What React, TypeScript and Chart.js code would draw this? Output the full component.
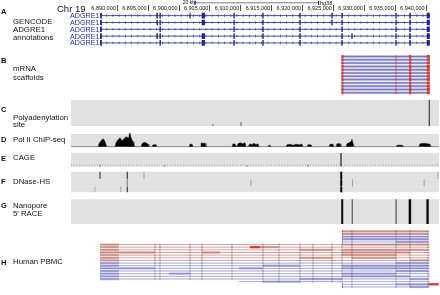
import { useEffect, useRef } from 'react';
import { Chart, registerables } from 'chart.js';

Chart.register(...registerables);

// ================= DATA (genomic positions in kb, chr19 hg38) =================
const chromName = 'Chr 19';
const viewKb: [number, number] = [6882.5, 6942.09];
const rulerStepKb = 5;
const rulerFirstLabelKb = 6890;
const scaleBarKb: [number, number] = [6902.6, 6922.6];
const scaleBarText = '20 kb';
const assemblyText = 'hg38';

// A: GENCODE ADGRE1 transcripts, exons [start, end]
const transcriptNames = ['ADGRE1', 'ADGRE1', 'ADGRE1', 'ADGRE1', 'ADGRE1'];
const transcriptExons: [number, number][][] = [
  [[6887.22, 6887.5], [6896.34, 6896.56], [6896.83, 6897.05], [6901.68, 6901.88], [6903.66, 6904.18], [6908.8, 6909.02], [6913.48, 6913.7], [6919.48, 6919.7], [6924.66, 6924.88], [6926.28, 6926.5], [6935.03, 6935.24], [6937.28, 6937.52], [6940.1, 6940.6]],
  [[6887.22, 6887.5], [6896.34, 6896.56], [6896.83, 6897.05], [6903.66, 6904.18], [6908.8, 6909.02], [6913.48, 6913.7], [6919.48, 6919.7], [6924.66, 6924.88], [6926.28, 6926.5], [6935.03, 6935.24], [6937.28, 6937.52], [6940.1, 6940.6]],
  [[6887.22, 6887.5], [6896.83, 6897.05], [6908.8, 6909.02], [6913.48, 6913.7], [6919.48, 6919.7], [6926.28, 6926.5], [6935.03, 6935.24], [6937.28, 6937.52], [6940.1, 6940.6]],
  [[6887.22, 6887.5], [6896.34, 6896.56], [6896.83, 6897.05], [6903.66, 6904.18], [6908.8, 6909.02], [6913.48, 6913.7], [6919.48, 6919.7], [6926.28, 6926.5], [6927.9, 6928.1], [6935.03, 6935.24], [6937.28, 6937.52], [6940.1, 6940.6]],
  [[6887.22, 6887.5], [6896.83, 6897.05], [6903.66, 6904.18], [6908.8, 6909.02], [6913.48, 6913.7], [6919.48, 6919.7], [6926.28, 6926.5], [6935.03, 6935.24], [6937.28, 6937.52], [6940.1, 6940.6]],
];

// B: mRNA scaffolds
const scaffoldSpanKb: [number, number] = [6926.3, 6940.6];
const scaffoldExons: [number, number][] = [[6926.3, 6926.62], [6935.06, 6935.2], [6937.24, 6937.6], [6940.12, 6940.6]];
const scaffoldAltExon: [number, number] = [6927.94, 6928.08];
const scaffoldHasAltExon = [true, true, false, true, true, false, true, true, true, false, true, true];

// C: polyadenylation sites [kb, relative signal]
const polyASites: [number, number][] = [[6940.52, 1.0], [6910.03, 0.14], [6905.5, 0.07]];

// D: Pol II ChIP-seq coverage [kb, signal]
const polIISignal: [number, number][] = [
  [6882.5, 0], [6886.87, 0], [6887.04, 3], [6887.36, 6], [6887.69, 8], [6887.85, 7], [6888.01, 5], [6888.17, 2], [6888.33, 0],
  [6889.63, 0], [6889.79, 4], [6890.11, 7], [6890.44, 9], [6890.76, 6], [6891.08, 8], [6891.41, 10], [6891.73, 9], [6891.89, 11], [6892.05, 14], [6892.22, 9], [6892.54, 5], [6892.7, 2], [6892.87, 0],
  [6893.84, 0], [6894.0, 3], [6894.32, 4.5], [6894.65, 4], [6894.97, 2.5], [6895.13, 0],
  [6895.62, 0], [6895.78, 2], [6896.27, 2], [6896.43, 0],
  [6901.61, 0], [6901.77, 2.5], [6902.1, 2.5], [6902.26, 0],
  [6903.39, 0], [6903.55, 3.5], [6904.2, 3.5], [6904.36, 0],
  [6908.57, 0], [6908.74, 3], [6909.06, 2.5], [6909.38, 0], [6909.54, 3], [6909.87, 4], [6910.35, 3], [6910.68, 4], [6910.84, 0],
  [6911.16, 0], [6911.49, 3], [6911.81, 2], [6912.13, 3.5], [6912.46, 2], [6912.78, 3], [6912.94, 0],
  [6914.4, 0], [6914.56, 1.5], [6914.72, 1.5], [6914.89, 0],
  [6917.32, 0], [6917.48, 2], [6917.96, 2.5], [6918.45, 1.5], [6918.93, 2.5], [6919.42, 2], [6919.91, 2.5], [6920.07, 0],
  [6920.72, 0], [6920.88, 2], [6921.36, 2], [6921.53, 0],
  [6924.28, 0], [6924.44, 2.5], [6924.93, 2.5], [6925.09, 0],
  [6925.41, 0], [6925.57, 3], [6926.06, 3], [6926.22, 0],
  [6927.03, 0], [6927.19, 3], [6927.51, 4], [6927.84, 5], [6928.0, 7.5], [6928.16, 4], [6928.32, 0],
  [6935.13, 0], [6935.29, 1.5], [6936.1, 1.5], [6936.26, 0],
  [6938.85, 0], [6939.01, 3], [6939.66, 3.5], [6940.31, 3], [6940.63, 2.5], [6940.8, 0], [6942.09, 0],
];

// E: CAGE peaks [kb, signal]
const cagePeaks: [number, number][] = [[6926.22, 13.5], [6887.2, 1.2], [6920.88, 1.4], [6897.6, 0.8], [6911.0, 0.8]];

// F: DNase-HS marks [start kb, end kb, cell line row, signal 0-1]
const dnaseMarks: [number, number, number, number][] = [
  [6887.12, 6887.28, 0, 0.85], [6886.3, 6886.45, 2, 0.25], [6889.95, 6890.1, 2, 0.25], [6890.5, 6890.65, 2, 0.3],
  [6891.52, 6891.7, 0, 0.8], [6891.52, 6891.7, 1, 0.45], [6891.52, 6891.7, 2, 0.8], [6894.25, 6894.4, 0, 0.3],
  [6911.55, 6911.7, 1, 0.3], [6926.1, 6926.42, 0, 1], [6926.1, 6926.42, 1, 1], [6926.1, 6926.42, 2, 1],
  [6928.0, 6928.15, 1, 0.3], [6939.6, 6939.75, 1, 0.3], [6941.85, 6942.0, 0, 0.3],
];

// G: Nanopore 5' RACE peaks [start kb, end kb]
const racePeaks: [number, number][] = [[6926.26, 6926.58], [6927.97, 6928.09], [6935.07, 6935.2], [6937.18, 6937.58], [6940.05, 6940.43]];

// H: Human PBMC long reads [row, strand, start kb, end kb, aligned blocks]
const pbmcReads: [number, '+' | '-', number, number, [number, number][]][] = [
  [0, '+', 6926.38, 6940.45, [[6926.38, 6940.31]]],
  [1, '+', 6926.38, 6940.45, [[6926.38, 6940.31]]],
  [2, '-', 6926.38, 6940.45, [[6926.38, 6940.31]]],
  [3, '-', 6926.38, 6940.45, [[6926.38, 6940.31]]],
  [4, '-', 6926.38, 6940.45, [[6935.13, 6940.31]]],
  [5, '+', 6887.2, 6940.6, [[6887.2, 6890.27], [6926.38, 6940.31]]],
  [6, '+', 6887.2, 6940.6, [[6887.2, 6890.27], [6913.11, 6916.02]]],
  [7, '+', 6887.2, 6940.6, [[6887.2, 6890.27], [6919.58, 6924.76], [6926.38, 6940.31]]],
  [8, '+', 6887.2, 6940.6, [[6887.2, 6890.27], [6890.27, 6896.1], [6903.71, 6906.63], [6926.38, 6937.39]]],
  [9, '+', 6887.2, 6940.6, [[6887.2, 6890.27], [6926.38, 6935.13]]],
  [10, '+', 6887.2, 6940.6, [[6887.2, 6890.27], [6919.58, 6924.76], [6928.0, 6935.13]]],
  [11, '+', 6887.2, 6940.6, [[6887.2, 6890.27], [6937.39, 6940.31]]],
  [12, '-', 6887.2, 6940.6, [[6887.2, 6890.27], [6935.13, 6940.31]]],
  [13, '-', 6887.2, 6940.6, [[6887.2, 6890.27], [6913.59, 6919.58], [6926.38, 6940.31]]],
  [14, '-', 6887.2, 6940.6, [[6887.2, 6890.27], [6890.27, 6896.1], [6909.71, 6913.59], [6926.38, 6940.31]]],
  [15, '-', 6887.2, 6940.6, [[6887.2, 6890.27], [6935.13, 6940.31]]],
  [16, '-', 6887.2, 6940.6, [[6887.2, 6890.27], [6898.37, 6901.77], [6926.38, 6935.13]]],
  [17, '-', 6887.2, 6940.6, [[6887.2, 6890.27], [6926.38, 6937.39]]],
  [18, '-', 6887.2, 6940.6, [[6887.2, 6890.27], [6919.58, 6926.38], [6937.39, 6940.31]]],
  [19, '-', 6909.71, 6940.6, [[6913.59, 6919.58]]],
  [20, '-', 6926.38, 6940.6, [[6935.13, 6940.31]]],
  [21, '-', 6926.38, 6940.6, [[6937.39, 6940.31]]],
];
const pbmcSpliceKb = [6896.1, 6896.91, 6901.77, 6903.71, 6908.57, 6913.59, 6916.18, 6919.58, 6921.69, 6924.76, 6926.38, 6928.0, 6935.13, 6937.39, 6940.31];
const pbmcMismatch: [number, number, number][] = [[6, 6911.49, 6913.11], [20, 6940.31, 6942.05]];

// ================= LAYOUT / STYLE =================
const W = 440;
const H = 295;
const PLOT_LEFT = 71;
const PLOT_TOP = 11;
const GRAY = '#e1e1e1';
const NAVY = '#22228e';
const LABEL_BLUE = '#2b2bab';
const RED = '#e3362b';
const FONT = '"Liberation Sans", Arial, sans-serif';

const geneRowY = [15.6, 22.5, 29.3, 36.1, 42.9];
const scaffoldTop = 56.5;
const scaffoldStep = 3.3;
const trackC: [number, number] = [100, 126];
const trackD: [number, number] = [134, 147];
const polIIBase = 146.7;
const trackE: [number, number] = [152.7, 166.7];
const trackF: [number, number] = [171.7, 192.3];
const dnaseRows: [number, number][] = [[171.7, 179], [179.3, 186.4], [186.7, 192.3]];
const trackG: [number, number] = [199.3, 224];
const pbmcTop = 231.3;
const pbmcStep = 2.65;

const labels: { t: string; x: number; y: number; b?: boolean }[] = [
  { t: 'A', x: 1, y: 12, b: true },
  { t: 'GENCODE', x: 13, y: 21.7 },
  { t: 'ADGRE1', x: 13, y: 29.5 },
  { t: 'annotations', x: 13, y: 37.8 },
  { t: 'B', x: 1, y: 60.7, b: true },
  { t: 'mRNA', x: 13, y: 69 },
  { t: 'scaffolds', x: 13, y: 78 },
  { t: 'C', x: 1, y: 110, b: true },
  { t: 'Polyadenylation', x: 13, y: 117.5 },
  { t: 'site', x: 13, y: 124.5 },
  { t: 'D', x: 1, y: 139.5, b: true },
  { t: 'Pol II ChIP-seq', x: 13, y: 139.5 },
  { t: 'E', x: 1, y: 158.3, b: true },
  { t: 'CAGE', x: 13, y: 158.3 },
  { t: 'F', x: 1, y: 181.7, b: true },
  { t: 'DNase-HS', x: 13, y: 181.7 },
  { t: 'G', x: 1, y: 205.7, b: true },
  { t: 'Nanopore', x: 13, y: 205.7 },
  { t: '5′ RACE', x: 13, y: 214 },
  { t: 'H', x: 1, y: 262.3, b: true },
  { t: 'Human PBMC', x: 13, y: 262.3 },
];

type P = { x: number | null; y: number | null };

function buildDatasets() {
  const datasets: any[] = [];
  let ord = 0;
  const add = (data: P[], color: string, width: number, extra: any = {}) => {
    datasets.push({
      type: 'line', data, borderColor: color, backgroundColor: color, borderWidth: width,
      pointRadius: 0, pointHoverRadius: 0, pointHitRadius: 0, spanGaps: false, tension: 0,
      fill: false, borderCapStyle: 'butt', borderJoinStyle: 'miter', order: -(ord++), ...extra,
    });
  };
  const seg = (out: P[], x0: number, y0: number, x1: number, y1: number) => {
    out.push({ x: x0, y: y0 }, { x: x1, y: y1 }, { x: null, y: null });
  };
  const rects = (list: [number, number][], yc: number, h: number, color: string, extra: any = {}) => {
    const d: P[] = [];
    list.forEach(([a, b]) => seg(d, a, yc, b, yc));
    add(d, color, h, extra);
  };
  const vlines = (list: [number, number, number][], color: string, width: number) => {
    const d: P[] = [];
    list.forEach(([x, y0, y1]) => seg(d, x, y0, x, y1));
    add(d, color, width);
  };

  // scale bar above ruler
  {
    const d: P[] = [];
    seg(d, scaleBarKb[0], 2.8, scaleBarKb[1], 2.8);
    add(d, '#222', 0.6, { clip: false });
    const t: P[] = [];
    seg(t, scaleBarKb[0], 0.8, scaleBarKb[0], 4.8);
    seg(t, scaleBarKb[1], 0.8, scaleBarKb[1], 4.8);
    add(t, '#222', 0.6, { clip: false });
  }

  // A: transcripts
  transcriptExons.forEach((exons, i) => {
    const y = geneRowY[i];
    const s = exons[0][0];
    const e = exons[exons.length - 1][1];
    const l: P[] = [];
    seg(l, s, y, e, y);
    add(l, NAVY, 0.8);
    const a: P[] = [];
    seg(a, s, y, e, y);
    add(a, 'rgba(40,40,150,0.7)', 2.6, { borderDash: [0.8, 5.4] });
    rects(exons, y, 5.6, NAVY);
  });

  // B: scaffolds
  scaffoldHasAltExon.forEach((alt, i) => {
    const y = scaffoldTop + i * scaffoldStep;
    rects([scaffoldSpanKb], y, 2.5, '#aeb0dd');
    rects([scaffoldSpanKb], y, 0.6, '#4a4aa8');
    if (alt) rects([scaffoldAltExon], y, 3, '#ef9a5a');
    rects(scaffoldExons, y, 3, RED);
  });

  // grey track backgrounds
  [trackC, trackD, trackE, trackF, trackG].forEach(([t, b]) => {
    rects([viewKb], (t + b) / 2, b - t, GRAY);
  });

  // C: polyA
  polyASites.forEach(([kb, v]) => {
    const top = trackC[1] - v * (trackC[1] - trackC[0]);
    vlines([[kb, top, trackC[1]]], v > 0.5 ? '#4a4a4a' : '#8c8c8c', v > 0.5 ? 1.3 : 0.8);
  });

  // D: Pol II
  add(polIISignal.map(([kb, v]) => ({ x: kb, y: polIIBase - v })), '#000', 0.4, {
    fill: { value: polIIBase }, backgroundColor: '#000',
  });

  // E: CAGE
  {
    const d: P[] = [];
    seg(d, viewKb[0], trackE[1] - 1.6, viewKb[1], trackE[1] - 1.6);
    add(d, '#6f6f6f', 0.8, { borderDash: [0.8, 1.8] });
    cagePeaks.forEach(([kb, v]) => {
      vlines([[kb, trackE[1] - 0.2 - v, trackE[1] - 0.2]], v > 5 ? '#111' : '#777', v > 5 ? 1.1 : 0.7);
    });
  }

  // F: DNase
  {
    const d: P[] = [];
    seg(d, viewKb[0], 179.15, viewKb[1], 179.15);
    seg(d, viewKb[0], 186.55, viewKb[1], 186.55);
    add(d, '#efefef', 0.5);
    dnaseMarks.forEach(([a, b, row, v]) => {
      const [t, bt] = dnaseRows[row];
      const g = Math.round(225 * (1 - v));
      rects([[a, b]], (t + bt) / 2, bt - t, `rgb(${g},${g},${g})`);
    });
  }

  // G: RACE
  rects(racePeaks, (trackG[0] + trackG[1]) / 2, trackG[1] - trackG[0], '#0a0a0a');

  // H: PBMC reads
  pbmcReads.forEach(([row, strand, s, e, blocks]) => {
    const y = pbmcTop + row * pbmcStep;
    const plus = strand === '+';
    rects(blocks, y, 2.3, plus ? '#dcb0ac' : '#b7b8e4');
    rects([[s, e]], y, 0.6, plus ? '#b86a66' : '#6a6ab8');
    const marks: [number, number][] = pbmcSpliceKb
      .filter((k) => k > s + 0.1 && k < e - 0.05)
      .map((k) => [k - 0.06, k + 0.06]);
    rects(marks, y, 2.2, plus ? 'rgba(150,60,55,0.8)' : 'rgba(95,85,120,0.75)');
    rects([[s, s + 0.12]], y, 2.4, plus ? RED : '#8c4fc0');
  });
  pbmcMismatch.forEach(([row, a, b]) => {
    rects([[a, b]], pbmcTop + row * pbmcStep, 2.3, RED);
  });

  return datasets;
}

export default function App() {
  const ref = useRef<HTMLCanvasElement>(null);
  useEffect(() => {
    if (!ref.current) return;
    const chart = new Chart(ref.current, {
      type: 'line',
      data: { datasets: buildDatasets() },
      options: {
        animation: false,
        responsive: false,
        maintainAspectRatio: false,
        events: [],
        layout: { padding: { left: PLOT_LEFT, right: 1, top: 0, bottom: 0 } },
        plugins: { legend: { display: false }, tooltip: { enabled: false }, title: { display: false } },
        scales: {
          x: {
            type: 'linear',
            position: 'top',
            min: viewKb[0],
            max: viewKb[1],
            afterFit: (s: any) => { s.height = PLOT_TOP; },
            border: { display: false },
            grid: {
              drawOnChartArea: false,
              drawTicks: true,
              tickLength: 6,
              lineWidth: 0.8,
              color: '#222',
              tickColor: (ctx: any) => (ctx.tick && ctx.tick.value < rulerFirstLabelKb - 0.01 ? 'rgba(0,0,0,0)' : '#222'),
            },
            ticks: {
              stepSize: rulerStepKb,
              includeBounds: false,
              autoSkip: false,
              maxRotation: 0,
              minRotation: 0,
              align: 'end',
              padding: -6.3,
              color: '#111',
              font: { family: FONT, size: 5.5 },
              callback: (v: any) => {
                const n = Number(v);
                if (n < rulerFirstLabelKb - 0.01) return '';
                return Math.round(n * 1000).toLocaleString('en-US') + ' ';
              },
            },
          },
          y: { type: 'linear', display: false, min: PLOT_TOP, max: H, reverse: true },
        },
      } as any,
    });
    return () => chart.destroy();
  }, []);

  const text = (t: string, x: number, yc: number, size: number, opts: any = {}) => (
    <div
      key={t + x + yc}
      style={{
        position: 'absolute', left: opts.right ? undefined : x, right: opts.right ? W - x : undefined,
        top: yc - 0.49 * size, fontSize: size, lineHeight: 1, whiteSpace: 'nowrap',
        fontWeight: opts.bold ? 700 : 400, color: opts.color || '#111', fontFamily: FONT,
      }}
    >
      {t}
    </div>
  );

  return (
    <div style={{ position: 'absolute', left: 0, top: 0, width: W, height: H, background: '#fff', overflow: 'hidden' }}>
      <canvas ref={ref} width={W} height={H} style={{ position: 'absolute', left: 0, top: 0 }} />
      {labels.map((l) => text(l.t, l.x, l.y, l.b ? 7.5 : 7.8, { bold: l.b }))}
      {text(chromName, 57, 9, 9.5)}
      {text(scaleBarText, 195, 2.6, 5, { right: true })}
      {text(assemblyText, 320, 3.2, 5.5)}
      {transcriptNames.map((n, i) => text(n, 99.5, geneRowY[i], 7.2, { right: true, color: LABEL_BLUE }))}
    </div>
  );
}
